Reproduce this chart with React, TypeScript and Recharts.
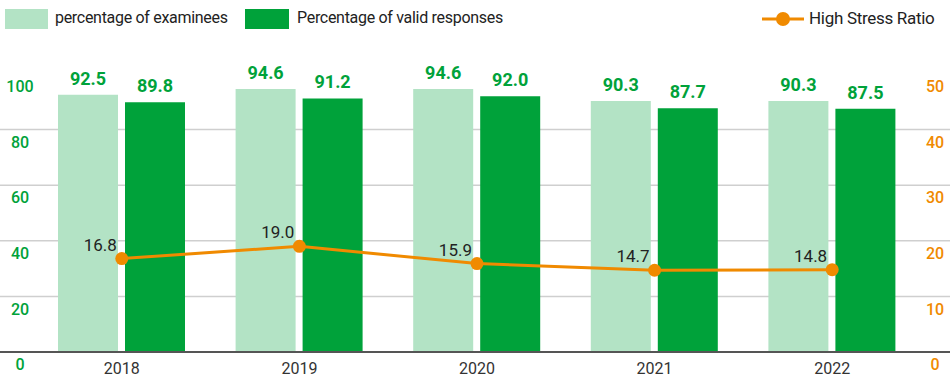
import {
  ComposedChart,
  Bar,
  Line,
  XAxis,
  YAxis,
  CartesianGrid,
  LabelList,
} from "recharts";

const years = ["2018", "2019", "2020", "2021", "2022"];
const examinees = [92.5, 94.6, 94.6, 90.3, 90.3];
const validResponses = [89.8, 91.2, 92.0, 87.7, 87.5];
const highStress = [16.8, 19.0, 15.9, 14.7, 14.8];

const leftTicks = [0, 20, 40, 60, 80, 100];
const rightTicks = [0, 10, 20, 30, 40, 50];
const gridValues = [20, 40, 60, 80];
const LEFT_MAX = 100;

const LIGHT = "#b3e3c5";
const DARK = "#00a23a";
const ORANGE = "#f08a00";
const FONT = "Roboto, 'DejaVu Sans', sans-serif";

const data = years.map((year, i) => ({
  year,
  examinees: examinees[i],
  valid: validResponses[i],
  stress: highStress[i],
}));

function LeftTick({ y, payload }: any) {
  return (
    <text x={20} y={y + 14} textAnchor="middle" dominantBaseline="middle"
      fill={DARK} fontSize={16} fontWeight={500} fontFamily={FONT}>
      {payload.value}
    </text>
  );
}

function RightTick({ y, payload }: any) {
  return (
    <text x={935} y={y + 14} textAnchor="middle" dominantBaseline="middle"
      fill={ORANGE} fontSize={16} fontWeight={500} fontFamily={FONT}>
      {payload.value}
    </text>
  );
}

function StressLabel({ x, y, value }: any) {
  return (
    <text x={x - 5} y={y - 8} textAnchor="end" fill="#222" fontSize={17}
      fontFamily={FONT}>
      {Number(value).toFixed(1)}
    </text>
  );
}

function LegendBar() {
  const textStyle = { fontSize: 16, letterSpacing: -0.3, color: "#222", fontFamily: FONT };
  return (
    <div style={{ position: "absolute", left: 0, top: 0, width: 950, height: 38 }}>
      <div style={{ position: "absolute", left: 5, top: 9, width: 43, height: 20, background: LIGHT }} />
      <div style={{ position: "absolute", left: 55, top: 8, ...textStyle }}>percentage of examinees</div>
      <div style={{ position: "absolute", left: 245, top: 9, width: 44, height: 20, background: DARK }} />
      <div style={{ position: "absolute", left: 297, top: 8, ...textStyle }}>Percentage of valid responses</div>
      <svg style={{ position: "absolute", left: 760, top: 8 }} width={46} height={22}>
        <line x1={2} y1={11} x2={44} y2={11} stroke={ORANGE} strokeWidth={3} />
        <circle cx={23} cy={11} r={7} fill={ORANGE} />
      </svg>
      <div style={{ position: "absolute", left: 809, top: 8, ...textStyle, fontSize: 17 }}>High Stress Ratio</div>
    </div>
  );
}

export default function App() {
  return (
    <div style={{ position: "absolute", left: 0, top: 0, width: 950, height: 380, background: "#fff" }}>
      <ComposedChart
        width={950}
        height={380}
        data={data}
        margin={{ top: 74, right: -1, bottom: 0, left: -1 }}
        barSize={60}
        barGap={7}
      >
        <CartesianGrid
          vertical={false}
          stroke="#cfcfcf"
          strokeWidth={1.5}
          horizontalCoordinatesGenerator={({ offset }: any) =>
            gridValues.map((v) => offset.top + offset.height * (1 - v / LEFT_MAX))
          }
        />
        <XAxis
          dataKey="year"
          height={28}
          padding={{ left: 33, right: 29 }}
          axisLine={{ stroke: "#555", strokeWidth: 2 }}
          tickLine={false}
          tick={{ fill: "#333", fontSize: 16, fontFamily: FONT }}
          tickMargin={5}
        />
        <YAxis
          yAxisId="left"
          width={1}
          domain={[0, LEFT_MAX]}
          ticks={leftTicks}
          axisLine={false}
          tickLine={false}
          tick={<LeftTick />}
        />
        <YAxis
          yAxisId="right"
          orientation="right"
          width={1}
          domain={[0, 50]}
          ticks={rightTicks}
          axisLine={false}
          tickLine={false}
          tick={<RightTick />}
        />
        <Bar yAxisId="left" dataKey="examinees" fill={LIGHT} isAnimationActive={false}>
          <LabelList dataKey="examinees" position="top" offset={10} fill={DARK}
            fontSize={18} fontWeight={700} fontFamily={FONT}
            formatter={(v: any) => Number(v).toFixed(1)} />
        </Bar>
        <Bar yAxisId="left" dataKey="valid" fill={DARK} isAnimationActive={false}>
          <LabelList dataKey="valid" position="top" offset={10} fill={DARK}
            fontSize={18} fontWeight={700} fontFamily={FONT}
            formatter={(v: any) => Number(v).toFixed(1)} />
        </Bar>
        <Line
          yAxisId="right"
          dataKey="stress"
          stroke={ORANGE}
          strokeWidth={3}
          dot={{ r: 6.5, fill: ORANGE, stroke: ORANGE, strokeWidth: 0 }}
          activeDot={false}
          isAnimationActive={false}
        >
          <LabelList dataKey="stress" content={<StressLabel />} />
        </Line>
      </ComposedChart>
      <LegendBar />
    </div>
  );
}
